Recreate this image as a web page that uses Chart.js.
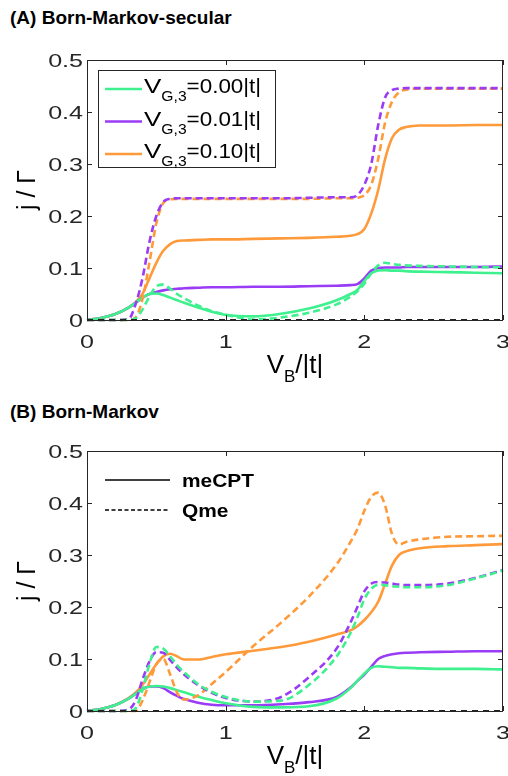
<!DOCTYPE html>
<html>
<head>
<meta charset="utf-8">
<script src="https://cdn.jsdelivr.net/npm/chart.js@4/dist/chart.umd.min.js"></script>
<style>
  body { margin:0; background:#fff; width:508px; height:776px; position:relative; overflow:hidden; font-family:"Liberation Sans", Arial, sans-serif; }
  .ttl { position:absolute; left:10px; font-weight:bold; font-size:19px; color:#000; }
  .box { position:absolute; left:0; width:508px; }
</style>
</head>
<body>
<div class="ttl" style="top:7px">(A) Born-Markov-secular</div>
<div class="box" style="top:0;height:390px"><canvas id="chA"></canvas></div>
<div class="ttl" style="top:401px">(B) Born-Markov</div>
<div class="box" style="top:390px;height:386px"><canvas id="chB"></canvas></div>
<script>
// shared V_B/|t| grid
const xs = [0,0.1,0.2,0.3,0.35,0.4,0.45,0.5,0.55,0.6,0.65,0.7,0.8,0.9,1.0,1.2,1.4,1.6,1.8,1.9,1.95,2.0,2.05,2.1,2.15,2.2,2.25,2.3,2.4,2.6,2.8,3.0];
const xTicks = [0,1,2,3];
const yTicks = [0,0.1,0.2,0.3,0.4,0.5];
const vgLabels = ['0.00','0.01','0.10'];

// (A) Born-Markov-secular: solid = meCPT, dashed = Qme
const aGreen   = [0,0.004,0.011,0.024,0.033,0.043,0.05,0.051,0.048,0.043,0.038,0.033,0.024,0.016,0.01,0.007,0.012,0.022,0.038,0.05,0.058,0.075,0.09,0.095,0.096,0.095,0.095,0.094,0.093,0.092,0.091,0.09];
const aGreenQ  = [0,0,0,0,0.003,0.02,0.045,0.065,0.068,0.06,0.05,0.042,0.028,0.017,0.01,0.001,0.005,0.014,0.03,0.045,0.055,0.07,0.09,0.105,0.11,0.108,0.106,0.105,0.104,0.103,0.102,0.101];
const aPurple  = [0,0.004,0.011,0.024,0.033,0.043,0.05,0.054,0.057,0.059,0.06,0.061,0.062,0.063,0.063,0.064,0.064,0.065,0.066,0.067,0.069,0.08,0.095,0.1,0.101,0.101,0.101,0.102,0.102,0.102,0.102,0.103];
const aPurpleQ = [0,0,0,0.002,0.03,0.08,0.15,0.2,0.227,0.233,0.234,0.234,0.234,0.234,0.234,0.234,0.234,0.235,0.236,0.236,0.24,0.26,0.3,0.375,0.428,0.442,0.445,0.446,0.446,0.446,0.446,0.446];
const aOrange  = [0,0.004,0.011,0.024,0.034,0.05,0.08,0.11,0.133,0.146,0.152,0.153,0.154,0.155,0.155,0.156,0.157,0.158,0.16,0.162,0.165,0.175,0.205,0.25,0.31,0.35,0.366,0.371,0.374,0.374,0.375,0.375];
const aOrangeQ = [0,0,0,0,0.005,0.04,0.11,0.186,0.225,0.232,0.233,0.233,0.233,0.233,0.233,0.233,0.233,0.233,0.234,0.234,0.235,0.24,0.26,0.31,0.38,0.42,0.438,0.443,0.445,0.445,0.445,0.445];

// (B) Born-Markov
const bGreen   = [0,0.004,0.011,0.024,0.033,0.042,0.047,0.048,0.047,0.044,0.04,0.036,0.028,0.021,0.015,0.008,0.007,0.009,0.024,0.044,0.058,0.072,0.083,0.086,0.085,0.084,0.083,0.083,0.082,0.081,0.081,0.08];
const bGreenQ  = [0,0,0,0,0.005,0.04,0.09,0.123,0.12,0.105,0.088,0.075,0.052,0.037,0.027,0.018,0.02,0.05,0.105,0.15,0.18,0.215,0.235,0.243,0.242,0.24,0.239,0.238,0.238,0.242,0.255,0.27];
const bPurple  = [0,0.004,0.011,0.024,0.033,0.042,0.047,0.047,0.044,0.036,0.029,0.023,0.016,0.012,0.011,0.011,0.013,0.017,0.027,0.045,0.058,0.07,0.085,0.1,0.106,0.109,0.111,0.112,0.113,0.114,0.115,0.115];
const bPurpleQ = [0,0,0,0.003,0.02,0.06,0.095,0.113,0.112,0.098,0.083,0.07,0.05,0.035,0.025,0.018,0.027,0.065,0.12,0.17,0.2,0.23,0.245,0.248,0.247,0.245,0.243,0.242,0.242,0.245,0.256,0.271];
const bOrange  = [0,0.004,0.011,0.025,0.035,0.05,0.07,0.09,0.105,0.11,0.105,0.099,0.099,0.104,0.109,0.116,0.123,0.133,0.147,0.155,0.163,0.175,0.19,0.21,0.245,0.28,0.3,0.307,0.313,0.317,0.319,0.321];
const bOrangeQ = [0,0,0,0,0,0.02,0.055,0.09,0.1,0.07,0.035,0.022,0.03,0.052,0.075,0.125,0.17,0.22,0.282,0.325,0.35,0.385,0.412,0.42,0.395,0.34,0.32,0.325,0.33,0.335,0.336,0.337];
const zeroLine = xs.map(() => 0);

const GREEN = '#3ef08e', PURPLE = '#9a3cf6', ORANGE = '#ff9a3a', AX = '#262626';
const FONT = '"Liberation Sans", Arial, sans-serif';

const pts = ys => ys.map((y, i) => ({x: xs[i], y}));
function ds(data, color, dashed){
  return { data: pts(data), borderColor: color, borderWidth: 2.6, borderDash: dashed ? [7,4] : [],
    pointRadius: 0, cubicInterpolationMode: 'monotone', clip: false, fill: false };
}
function series(g, gq, p, pq, o, oq){
  return [
    { data: pts(zeroLine), borderColor: '#222', borderWidth: 2, borderDash: [6,5], pointRadius: 0, clip: false },
    ds(gq, GREEN, true), ds(pq, PURPLE, true), ds(oq, ORANGE, true),
    ds(g, GREEN, false), ds(p, PURPLE, false), ds(o, ORANGE, false)
  ];
}

// text helper with horizontal stretch (the source figure's text is widened)
function txt(c, s, x, y, font, align, k){
  c.save(); c.translate(x, y); c.scale(k, 1);
  c.font = font; c.textAlign = align; c.fillText(s, 0, 0);
  const w = c.measureText(s).width * k; c.restore(); return w;
}
function width(c, s, font, k){ c.save(); c.font = font; const w = c.measureText(s).width * k; c.restore(); return w; }

const deco = {
  id: 'deco',
  afterDraw(chart, args, opt){
    const c = chart.ctx, a = chart.chartArea, sx = chart.scales.x, sy = chart.scales.y;
    c.save();
    c.strokeStyle = AX; c.lineWidth = 1;
    c.strokeRect(a.left + 0.5, a.top + 0.5, a.right - a.left - 1, a.bottom - a.top);
    c.beginPath();
    xTicks.forEach(v => { const px = Math.round(sx.getPixelForValue(v)) + 0.5;
      c.moveTo(px, a.bottom); c.lineTo(px, a.bottom - 5); c.moveTo(px, a.top); c.lineTo(px, a.top + 5); });
    yTicks.forEach(v => { const py = Math.round(sy.getPixelForValue(v)) + 0.5;
      c.moveTo(a.left, py); c.lineTo(a.left + 5, py); c.moveTo(a.right, py); c.lineTo(a.right - 5, py); });
    c.stroke();

    c.fillStyle = AX; c.textBaseline = 'alphabetic';
    const tf = '19px ' + FONT, K = 1.32;
    xTicks.forEach(v => txt(c, String(v), sx.getPixelForValue(v), a.bottom + 28, tf, 'center', K));
    yTicks.forEach(v => txt(c, String(v), a.left - 4, sy.getPixelForValue(v) + 7, tf, 'right', K));

    // x title V_B/|t|
    c.fillStyle = '#000';
    const cx = (a.left + a.right) / 2, by = a.bottom + 53;
    const f1 = '26px ' + FONT, f2 = '17px ' + FONT;
    const wV = width(c, 'V', f1, 1), wB = width(c, 'B', f2, 1), wR = width(c, '/|t|', f1, 1);
    let x0 = cx - (wV + wB + wR) / 2;
    txt(c, 'V', x0, by, f1, 'left', 1);
    txt(c, 'B', x0 + wV, by + 9, f2, 'left', 1);
    txt(c, '/|t|', x0 + wV + wB, by, f1, 'left', 1);
    // y title
    c.save(); c.translate(a.left - 52, (a.top + a.bottom) / 2); c.rotate(-Math.PI / 2);
    c.textAlign = 'center'; c.font = '25px ' + FONT; c.fillText('j / \u0393', 0, 0); c.restore();

    if (opt.kind === 'vg') {
      const L = a.left + 11, T = a.top + 10;
      c.strokeStyle = AX; c.lineWidth = 1; c.strokeRect(L + 0.5, T + 0.5, 177, 97);
      const lf = '20px ' + FONT, sf = '14px ' + FONT, LK = 1.12;
      [GREEN, PURPLE, ORANGE].forEach((col, i) => {
        const ly = T + 19 + i * 32.5;
        c.strokeStyle = col; c.lineWidth = 2.6; c.beginPath(); c.moveTo(L + 7, ly); c.lineTo(L + 44, ly); c.stroke();
        const tb = ly + 4;
        c.fillStyle = '#000';
        let xx = L + 46;
        xx += txt(c, 'V', xx, tb, lf, 'left', 1.3);
        xx += txt(c, 'G,3', xx, tb + 8, sf, 'left', LK);
        txt(c, '=' + vgLabels[i] + '|t|', xx, tb, lf, 'left', LK);
      });
    } else {
      const L = a.left + 18, T = a.top + 29;
      c.strokeStyle = '#000'; c.lineWidth = 1.5;
      c.beginPath(); c.moveTo(L, T); c.lineTo(L + 65, T); c.stroke();
      c.setLineDash([4, 2.5]); c.beginPath(); c.moveTo(L, T + 30); c.lineTo(L + 65, T + 30); c.stroke(); c.setLineDash([]);
      c.fillStyle = '#000';
      const bf = 'bold 19px ' + FONT;
      txt(c, 'meCPT', L + 77, T + 7, bf, 'left', 1.1);
      txt(c, 'Qme', L + 77, T + 37, bf, 'left', 1.1);
    }
    c.restore();
  }
};

function makeChart(id, datasets, padTop, xH, kind){
  return new Chart(document.getElementById(id), {
    type: 'line',
    data: { datasets },
    plugins: [deco],
    options: {
      responsive: true, maintainAspectRatio: false, animation: false,
      layout: { padding: { top: padTop, right: 5, left: 0, bottom: 0 } },
      plugins: { legend: { display: false }, tooltip: { enabled: false }, deco: { kind } },
      scales: {
        x: { type: 'linear', min: 0, max: 3,
          afterBuildTicks: s => { s.ticks = xTicks.map(v => ({value: v})); },
          afterFit: s => { s.height = xH; s.paddingLeft = 0; s.paddingRight = 0; },
          grid: { display: false, drawTicks: false }, border: { display: false },
          ticks: { display: false } },
        y: { min: 0, max: 0.5,
          afterBuildTicks: s => { s.ticks = yTicks.map(v => ({value: v})); },
          afterFit: s => { s.width = 87; s.paddingTop = 0; s.paddingBottom = 0; },
          grid: { display: false, drawTicks: false }, border: { display: false },
          ticks: { display: false } }
      }
    }
  });
}

makeChart('chA', series(aGreen, aGreenQ, aPurple, aPurpleQ, aOrange, aOrangeQ), 60, 70, 'vg');
makeChart('chB', series(bGreen, bGreenQ, bPurple, bPurpleQ, bOrange, bOrangeQ), 61, 65, 'method');
</script>
</body>
</html>
